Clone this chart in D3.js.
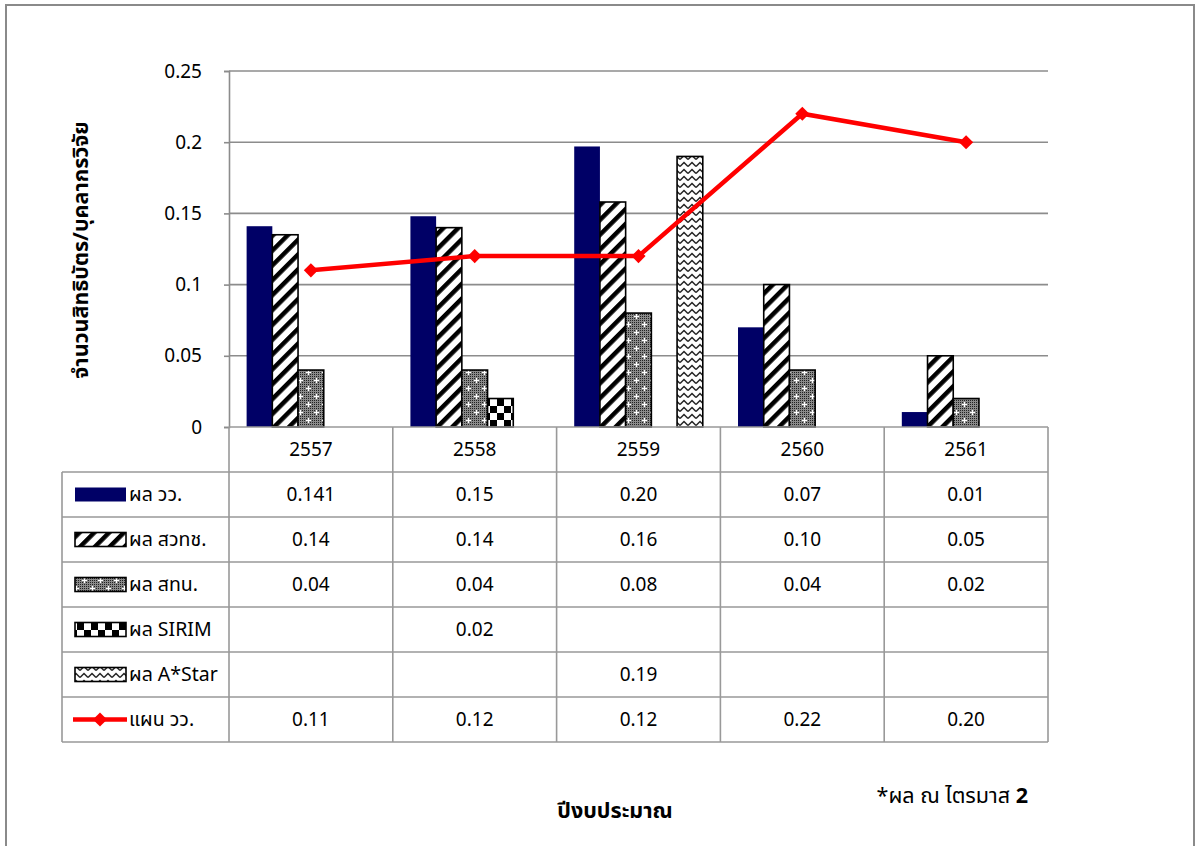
<!DOCTYPE html>
<html>
<head>
<meta charset="utf-8">
<script src="https://cdn.jsdelivr.net/npm/d3@7"></script>
<style>
  html, body { margin: 0; padding: 0; background: #fff; }
  svg { display: block; }
  text { font-family: Tahoma, "Leelawadee UI", "Noto Sans Thai", "Noto Sans", "DejaVu Sans", sans-serif; fill: #000; }
</style>
</head>
<body>
<svg id="chart" width="1197" height="846"></svg>
<script>
// ---------------- DATA ----------------
const categories = ["2557", "2558", "2559", "2560", "2561"];
const seriesNames = ["ผล วว.", "ผล สวทช.", "ผล สทน.", "ผล SIRIM", "ผล A*Star", "แผน วว."];
const wwValues    = [0.141, 0.148, 0.197, 0.070, 0.0105];
const nstdaValues = [0.135, 0.140, 0.158, 0.100, 0.050];
const tinValues   = [0.040, 0.040, 0.080, 0.040, 0.020];
const sirimValues = [null, 0.020, null, null, null];
const astarValues = [null, null, 0.190, null, null];
const planValues  = [0.11, 0.12, 0.12, 0.22, 0.20];
const wwLabels    = ["0.141", "0.15", "0.20", "0.07", "0.01"];
const nstdaLabels = ["0.14", "0.14", "0.16", "0.10", "0.05"];
const tinLabels   = ["0.04", "0.04", "0.08", "0.04", "0.02"];
const sirimLabels = ["", "0.02", "", "", ""];
const astarLabels = ["", "", "0.19", "", ""];
const planLabels  = ["0.11", "0.12", "0.12", "0.22", "0.20"];
const yTicks = [0, 0.05, 0.1, 0.15, 0.2, 0.25];
const yTickLabels = ["0", "0.05", "0.1", "0.15", "0.2", "0.25"];
const yTitle = "จำนวนสิทธิบัตร/บุคลากรวิจัย";
const xTitle = "ปีงบประมาณ";
const note = "*ผล ณ ไตรมาส ";
const noteBold = "2";

// ---------------- SETUP ----------------
const svg = d3.select("#chart");
const defs = svg.append("defs");
const barSeries = [wwValues, nstdaValues, tinValues, sirimValues, astarValues];
const tableRows = [wwLabels, nstdaLabels, tinLabels, sirimLabels, astarLabels, planLabels];
const fills = ["#000066", "url(#pStripe)", "url(#pDots)", "url(#pCheck)", "url(#pZig)"];

// patterns
const pStripe = defs.append("pattern").attr("id", "pStripe")
  .attr("patternUnits", "userSpaceOnUse").attr("width", 10.5).attr("height", 10.5)
  .attr("patternTransform", "rotate(45)");
pStripe.append("rect").attr("width", 10.5).attr("height", 10.5).attr("fill", "#fff");
pStripe.append("rect").attr("width", 4.5).attr("height", 10.5).attr("fill", "#000");

const pDots = defs.append("pattern").attr("id", "pDots")
  .attr("patternUnits", "userSpaceOnUse").attr("width", 16).attr("height", 16);
pDots.append("rect").attr("width", 16).attr("height", 16).attr("fill", "#8a8a8a");
for (let i = 0; i < 16; i += 2) for (let j = 0; j < 16; j += 2) {
  pDots.append("rect").attr("x", i).attr("y", j).attr("width", 1).attr("height", 1).attr("fill", "#222");
}
[[4, 4], [12, 12]].forEach(([cx, cy]) => {
  pDots.append("rect").attr("x", cx - 2).attr("y", cy).attr("width", 5).attr("height", 1).attr("fill", "#fff");
  pDots.append("rect").attr("x", cx).attr("y", cy - 2).attr("width", 1).attr("height", 5).attr("fill", "#fff");
});

const pCheck = defs.append("pattern").attr("id", "pCheck")
  .attr("patternUnits", "userSpaceOnUse").attr("width", 14).attr("height", 14);
pCheck.append("rect").attr("width", 14).attr("height", 14).attr("fill", "#fff");
pCheck.append("rect").attr("width", 7).attr("height", 7).attr("fill", "#000");
pCheck.append("rect").attr("x", 7).attr("y", 7).attr("width", 7).attr("height", 7).attr("fill", "#000");

const pZig = defs.append("pattern").attr("id", "pZig")
  .attr("patternUnits", "userSpaceOnUse").attr("width", 8).attr("height", 7);
pZig.append("rect").attr("width", 8).attr("height", 7).attr("fill", "#fff");
pZig.append("path").attr("d", "M0,5.5 L4,1.5 L8,5.5").attr("fill", "none").attr("stroke", "#222").attr("stroke-width", 1.5);

// outer frame
svg.append("path").attr("d", "M6,846 L6,5 L1194,5 L1194,846")
  .attr("fill", "none").attr("stroke", "#8a8a8a").attr("stroke-width", 2);

// scales
const x = d3.scaleBand().domain(categories).range([229, 1048]).paddingInner(0).paddingOuter(0);
const x1 = d3.scaleBand().domain(d3.range(5)).range([0, x.bandwidth()]).paddingInner(0).paddingOuter(0.685);
const y = d3.scaleLinear().domain([0, 0.25]).range([427, 71]);
const rowNames = ["header"].concat(seriesNames);
const rowScale = d3.scaleBand().domain(rowNames).range([427, 742]);

// gridlines
svg.append("g").selectAll("line").data(yTicks.filter(d => d > 0)).join("line")
  .attr("x1", 229).attr("x2", 1048)
  .attr("y1", d => y(d)).attr("y2", d => y(d))
  .attr("stroke", "#8c8c8c").attr("stroke-width", 1.6);

// y axis
const yAxis = d3.axisLeft(y).tickValues(yTicks)
  .tickFormat((d, i) => yTickLabels[i]).tickSize(5).tickPadding(22);
const gy = svg.append("g").attr("transform", "translate(229,0)").call(yAxis);
gy.select(".domain").attr("stroke", "#8c8c8c").attr("stroke-width", 1.6);
gy.selectAll(".tick line").attr("stroke", "#8c8c8c").attr("stroke-width", 1.6);
gy.selectAll(".tick text").attr("font-size", 19).attr("font-family", null).attr("fill", "#000");

// bars
const bars = [];
barSeries.forEach((vals, s) => vals.forEach((v, c) => { if (v != null) bars.push({ s, c, v }); }));
svg.append("g").selectAll("rect").data(bars).join("rect")
  .attr("x", d => x(categories[d.c]) + x1(d.s))
  .attr("y", d => y(d.v))
  .attr("width", x1.bandwidth())
  .attr("height", d => y(0) - y(d.v))
  .attr("fill", d => fills[d.s])
  .attr("stroke", d => d.s === 0 ? "none" : "#000")
  .attr("stroke-width", 1.6);

// line
const linePath = d3.line().x((d, i) => x(categories[i]) + x.bandwidth() / 2).y(d => y(d));
svg.append("path").datum(planValues).attr("d", linePath)
  .attr("fill", "none").attr("stroke", "#ff0000").attr("stroke-width", 4.5);
const diamond = d3.symbol().type(d3.symbolSquare).size(100);
svg.append("g").selectAll("path").data(planValues).join("path")
  .attr("d", diamond)
  .attr("transform", (d, i) => `translate(${x(categories[i]) + x.bandwidth() / 2},${y(d)}) rotate(45)`)
  .attr("fill", "#ff0000");

// table grid
const tg = svg.append("g").attr("stroke", "#999").attr("stroke-width", 1.6);
tg.append("line").attr("x1", 229).attr("x2", 1048).attr("y1", 427).attr("y2", 427);
seriesNames.forEach(n => {
  tg.append("line").attr("x1", 62).attr("x2", 1048).attr("y1", rowScale(n)).attr("y2", rowScale(n));
});
tg.append("line").attr("x1", 62).attr("x2", 1048).attr("y1", 742).attr("y2", 742);
tg.append("line").attr("x1", 62).attr("x2", 62).attr("y1", rowScale(seriesNames[0])).attr("y2", 742);
categories.forEach(c => {
  tg.append("line").attr("x1", x(c)).attr("x2", x(c)).attr("y1", 427).attr("y2", 742);
});
tg.append("line").attr("x1", 1048).attr("x2", 1048).attr("y1", 427).attr("y2", 742);

// header labels
svg.append("g").selectAll("text").data(categories).join("text")
  .attr("x", d => x(d) + x.bandwidth() / 2)
  .attr("y", rowScale("header") + rowScale.bandwidth() / 2)
  .attr("dy", "0.35em").attr("text-anchor", "middle").attr("font-size", 19)
  .text(d => d);

// table values
tableRows.forEach((labels, r) => {
  const ry = rowScale(seriesNames[r]) + rowScale.bandwidth() / 2;
  svg.append("g").selectAll("text").data(labels).join("text")
    .attr("x", (d, i) => x(categories[i]) + x.bandwidth() / 2)
    .attr("y", ry).attr("dy", "0.35em").attr("text-anchor", "middle").attr("font-size", 19)
    .text(d => d);
});

// legend keys
seriesNames.forEach((n, r) => {
  const cy = rowScale(n) + rowScale.bandwidth() / 2;
  if (r < 5) {
    svg.append("rect").attr("x", 75).attr("y", cy - 7).attr("width", 51).attr("height", 14)
      .attr("fill", fills[r]).attr("stroke", r === 0 ? "none" : "#000").attr("stroke-width", 1.6);
  } else {
    svg.append("line").attr("x1", 73).attr("x2", 127).attr("y1", cy).attr("y2", cy)
      .attr("stroke", "#ff0000").attr("stroke-width", 4.5);
    svg.append("path").attr("d", diamond).attr("transform", `translate(100,${cy}) rotate(45)`).attr("fill", "#ff0000");
  }
  svg.append("text").attr("x", 129).attr("y", cy).attr("dy", "0.35em").attr("font-size", 19.5).text(n);
});

// titles
svg.append("text").attr("transform", "translate(80,250) rotate(-90)")
  .attr("text-anchor", "middle").attr("dy", "0.35em").attr("font-size", 21.5).attr("font-weight", "bold")
  .text(yTitle);
svg.append("text").attr("x", 615).attr("y", 810).attr("dy", "0.35em")
  .attr("text-anchor", "middle").attr("font-size", 21.5).attr("font-weight", "bold").text(xTitle);
const nt = svg.append("text").attr("x", 1028).attr("y", 795).attr("dy", "0.35em")
  .attr("text-anchor", "end").attr("font-size", 21.5);
nt.append("tspan").text(note);
nt.append("tspan").attr("font-weight", "bold").text(noteBold);
</script>
</body>
</html>
